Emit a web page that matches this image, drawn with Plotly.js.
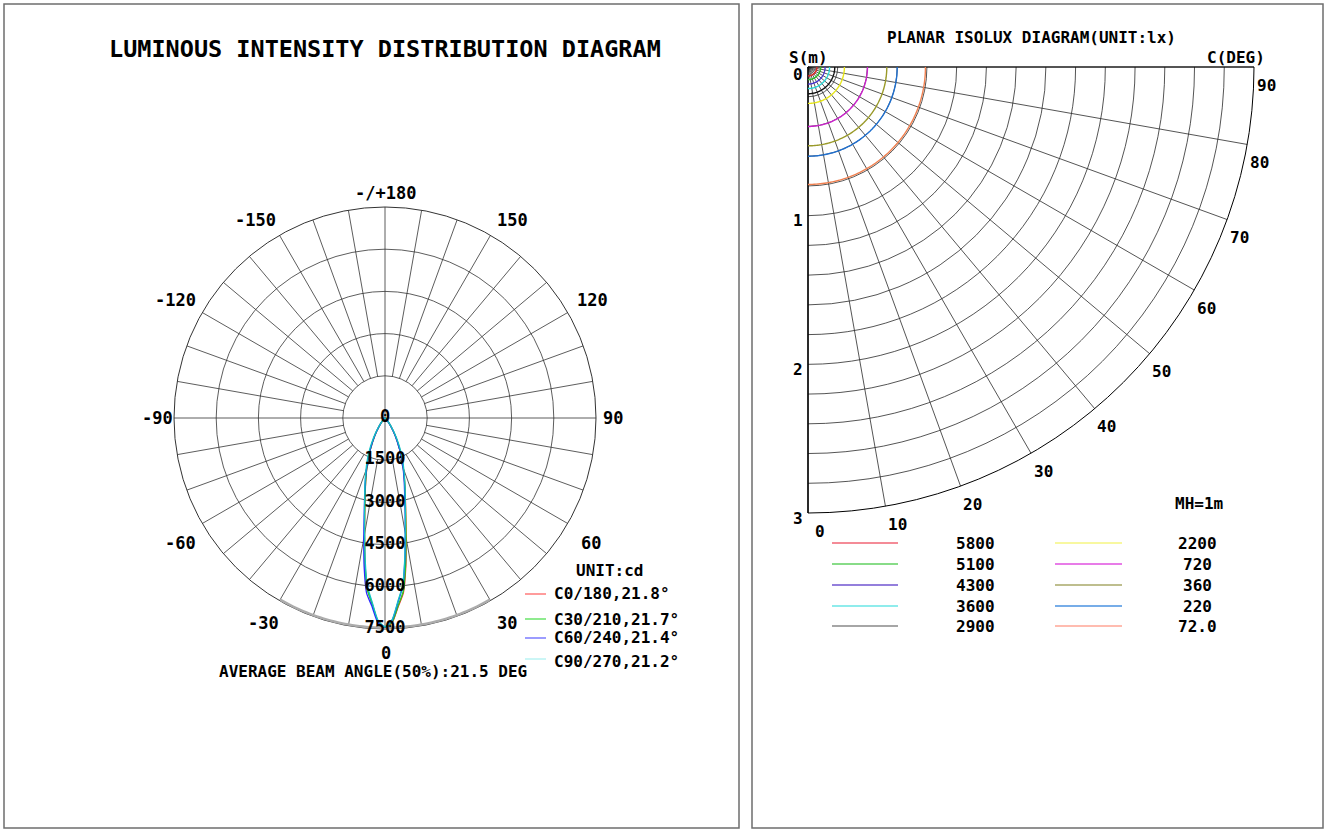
<!DOCTYPE html>
<html><head><meta charset="utf-8">
<script src="https://cdn.plot.ly/plotly-3.0.1.min.js"></script>
<style>html,body{margin:0;padding:0;background:#fff;}#chart{width:1328px;height:832px;}</style>
</head><body><div id="chart"></div>
<script>
const W = 1328, H = 832;

// ---------- Luminous intensity distribution (cd) ----------
const gammaDeg = [0,2,4,6,8,10,12,14,16,18,20,22,25,30,35,40,45,50,60,70,80,90];
const cd_C0   = [7450,7280,6720,6250,5320,4330,3560,3000,2580,2220,1910,1600,1240,740,370,170,75,30,8,0,0,0];
const cd_C180 = [7450,7220,6600,6080,5120,4180,3460,2920,2520,2180,1880,1580,1230,730,370,170,75,30,8,0,0,0];
const cd_C30  = [7440,7260,6690,6200,5260,4290,3530,2980,2570,2210,1900,1600,1240,740,370,170,75,30,8,0,0,0];
const cd_C210 = [7440,7230,6620,6100,5150,4200,3480,2940,2530,2190,1890,1590,1230,735,370,170,75,30,8,0,0,0];
const cd_C60  = [7430,7200,6580,6020,5080,4150,3440,2900,2500,2170,1870,1580,1220,725,365,165,72,28,8,0,0,0];
const cd_C240 = [7430,7270,6700,6260,5330,4340,3570,3010,2590,2230,1920,1610,1250,745,375,172,76,30,8,0,0,0];
const cd_C90  = [7420,7180,6540,5980,5050,4150,3480,2960,2580,2250,1960,1700,1350,820,420,200,90,35,10,0,0,0];
const cd_C270 = [7420,7190,6560,6000,5070,4170,3500,2980,2600,2270,1980,1720,1370,830,425,200,90,35,10,0,0,0];
const planeNames  = ['C0/180','C30/210','C60/240','C90/270'];
const beamAngles  = [21.8, 21.7, 21.4, 21.2];
const avgBeamAngle = 21.5;
const radialTicks = [0,1500,3000,4500,6000,7500];
const angleTickText = ['-/+180','150','120','90','60','30','0','-30','-60','-90','-120','-150'];

// ---------- Planar isolux (lx), mounting height 1 m ----------
const luxLabels = ['5800','5100','4300','3600','2900','2200','720','360','220','72.0'];
const luxRadiusM = [0.06,0.085,0.115,0.145,0.18,0.245,0.40,0.53,0.60,0.79];
const sTicks = ['0','1','2','3'];
const cTicks = ['0','10','20','30','40','50','60','70','80','90'];

// ---------- styles ----------
const FONT = 'DejaVu Sans Mono, Liberation Mono, monospace';
const curveColors  = ['#ff2a2a','#1fd41f','#2a2aff','#10c4c4'];
const legColors    = ['#ff5a5a','#44dd44','#5a5aff','#a8f0f0'];
const arcColors    = ['#e02525','#25c025','#4a35d0','#25d5d5','#111111','#e6e61a','#cc22cc','#9a9a2a','#1f70d0','#f08050'];
const luxLegColors = ['#f06575','#60d060','#7055d0','#6ae6e6','#888888','#f6f680','#e050e0','#a8a868','#4a92e0','#ffa696'];

const px = x => x / W, py = y => 1 - y / H;
const traces = [];

// left polar: spokes (grid)
(function(){
  const th = [], r = [];
  for (let a = -170; a <= 180; a += 10) {
    const full = (a % 90 === 0);
    th.push(a, a, null); r.push(full ? 0 : 1500, 7500, null);
  }
  traces.push({type:'scatterpolar', subplot:'polar', mode:'lines', theta:th, r:r,
    line:{color:'#333333', width:0.8}, hoverinfo:'skip', showlegend:false, connectgaps:false});
})();
// grey beam arc (outer ring, clipped to its inner half by the subplot)
(function(){
  const th = [], r = [];
  for (let a = -30; a <= 30; a += 1) { th.push(a); r.push(radialTicks[radialTicks.length-1]); }
  traces.push({type:'scatterpolar', subplot:'polar', mode:'lines', theta:th, r:r,
    line:{color:'#acacac', width:5}, hoverinfo:'skip', showlegend:false});
})();
// intensity curves
const planes = [[cd_C0,cd_C180],[cd_C30,cd_C210],[cd_C60,cd_C240],[cd_C90,cd_C270]];
planes.forEach((p, i) => {
  const th = [], r = [];
  for (let k = gammaDeg.length - 1; k >= 0; k--) { th.push(-gammaDeg[k]); r.push(p[1][k]); }
  for (let k = 1; k < gammaDeg.length; k++) { th.push(gammaDeg[k]); r.push(p[0][k]); }
  traces.push({type:'scatterpolar', subplot:'polar', mode:'lines', theta:th, r:r,
    line:{color:curveColors[i], width:1.3, shape:'spline', smoothing:0.6}, name:planeNames[i], showlegend:false});
});
// radial tick labels
traces.push({type:'scatterpolar', subplot:'polar', mode:'text', theta:radialTicks.map(()=>0), r:radialTicks,
  text:radialTicks.map(String), textposition:'middle center', cliponaxis:false,
  textfont:{family:FONT, size:17, color:'#000', weight:'bold'}, hoverinfo:'skip', showlegend:false});

// right polar: isolux arcs
luxRadiusM.forEach((rad, i) => {
  const th = [], r = [];
  for (let a = 0; a <= 90; a += 1) { th.push(a); r.push(rad); }
  traces.push({type:'scatterpolar', subplot:'polar2', mode:'lines', theta:th, r:r,
    line:{color:arcColors[i], width:1.4}, name:luxLabels[i], showlegend:false, hoverinfo:'skip'});
});

// ---------- annotations ----------
const ann = [];
function A(text, x, y, size, xanchor, extra) {
  ann.push(Object.assign({text:text, x:px(x), y:py(y), xref:'paper', yref:'paper', showarrow:false,
    xanchor:xanchor||'center', yanchor:'middle', font:{family:FONT, size:size, color:'#000', weight:'bold'}}, extra||{}));
}
A('LUMINOUS INTENSITY DISTRIBUTION DIAGRAM', 385, 49, 23.5);
const angLabelPos = [[385,193],[512,220],[592,300],[613,418],[591,543],[507,623],[386,653],[263,623],[180,543],[157,418],[175,300],[255,220]];
angleTickText.forEach((t, i) => A(t, angLabelPos[i][0], angLabelPos[i][1], 17));
A('UNIT:cd', 609, 570, 16);
planeNames.forEach((n, i) => {
  const ys = [593, 619, 637, 661];
  A(n + ',' + beamAngles[i].toFixed(1) + '°', 552, ys[i], 16, 'left');
});
A('AVERAGE BEAM ANGLE(50%):' + avgBeamAngle.toFixed(1) + ' DEG', 217, 671, 16, 'left');

// right panel
A('PLANAR ISOLUX DIAGRAM(UNIT:lx)', 1031, 38, 16);
A('S(m)', 808, 57, 16);
A('C(DEG)', 1267, 58, 16, 'right');
const ORX = 808, ORY = 67, RR = 446;
sTicks.forEach((t, i) => A(t, 798, ORY + i * RR / 3 + (i === 0 ? 7 : 5), 16));
cTicks.forEach((t, i) => {
  const a = (+t) * Math.PI / 180;
  A(t, ORX + RR * Math.sin(a) + 12, ORY + RR * Math.cos(a) + 18, 16);
});
A('MH=1m', 1199, 504, 16);
const legRowY = [543, 564, 585, 606, 626];
luxLabels.forEach((t, i) => {
  const col = i < 5 ? 0 : 1, row = i % 5;
  A(t, col ? 1197 : 975, legRowY[row], 16);
});

// ---------- shapes ----------
const shapes = [];
function rect(x0,y0,x1,y1){ shapes.push({type:'rect', xref:'paper', yref:'paper', x0:px(x0), x1:px(x1), y0:py(y1), y1:py(y0), line:{color:'#6e6e6e', width:1.5}, fillcolor:'rgba(0,0,0,0)'}); }
rect(4, 4, 739, 828);
rect(752, 4, 1323, 828);
function hline(x0, x1, y, color, w){ shapes.push({type:'line', xref:'paper', yref:'paper', x0:px(x0), x1:px(x1), y0:py(y), y1:py(y), line:{color:color, width:w||1.2}}); }
[594, 619, 638, 659].forEach((y, i) => hline(525, 546, y, legColors[i]));
luxLabels.forEach((t, i) => {
  const col = i < 5 ? 0 : 1, row = i % 5;
  hline(col ? 1055 : 832, col ? 1122 : 898, legRowY[row], luxLegColors[i], 1.5);
});

const layout = {
  width: W, height: H, margin:{l:0, r:0, t:0, b:0}, paper_bgcolor:'#fff', showlegend:false,
  font:{family:FONT},
  polar:{
    domain:{x:[px(174), px(596)], y:[py(629), py(207)]},
    bgcolor:'rgba(0,0,0,0)',
    radialaxis:{range:[0,7500], tickmode:'array', tickvals:[1500,3000,4500,6000,7500], showticklabels:false, ticks:'',
      showline:false, gridcolor:'#333333', gridwidth:0.8, layer:'below traces'},
    angularaxis:{rotation:-90, direction:'counterclockwise', showgrid:false, showticklabels:false, ticks:'',
      showline:true, linecolor:'#333333', linewidth:1, layer:'below traces'}
  },
  polar2:{
    domain:{x:[px(808), px(1254)], y:[py(513), py(67)]},
    sector:[-90, 0],
    bgcolor:'rgba(0,0,0,0)',
    radialaxis:{range:[0,3], tickmode:'linear', tick0:0, dtick:0.2, showticklabels:false, ticks:'',
      showline:true, linecolor:'#000', linewidth:1, angle:-90, gridcolor:'#2a2a2a', gridwidth:0.8, layer:'below traces'},
    angularaxis:{rotation:-90, direction:'counterclockwise', tickmode:'linear', tick0:0, dtick:10, showticklabels:false, ticks:'',
      showline:true, linecolor:'#000', linewidth:1, gridcolor:'#2a2a2a', gridwidth:0.8, layer:'below traces'}
  },
  annotations: ann,
  shapes: shapes
};
Plotly.newPlot('chart', traces, layout, {staticPlot:true, displayModeBar:false});
</script>
</body></html>
